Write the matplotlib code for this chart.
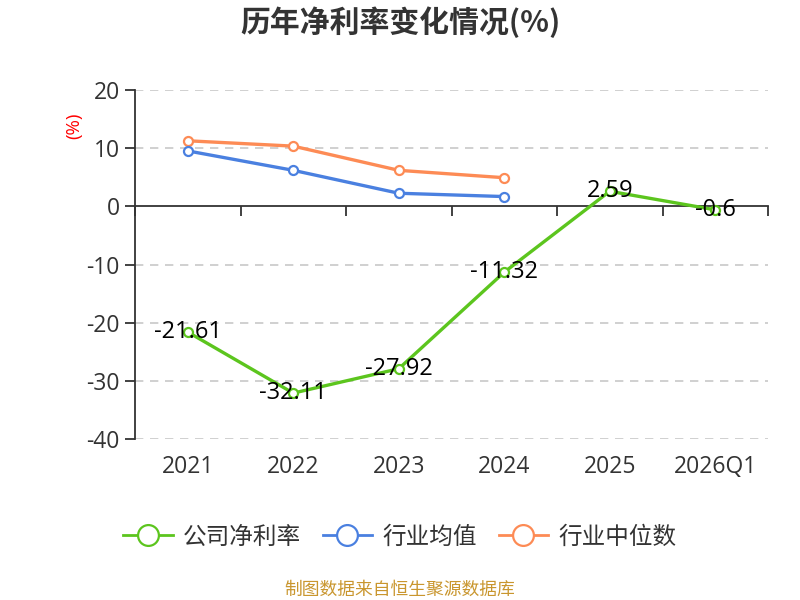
import matplotlib
matplotlib.use("Agg")
import matplotlib.pyplot as plt
import matplotlib.transforms as mtransforms
from matplotlib.lines import Line2D

plt.rcParams['font.family'] = ['Open Sans', 'Noto Sans CJK SC', 'DejaVu Sans']

categories = ['2021', '2022', '2023', '2024', '2025', '2026Q1']
company = [-21.61, -32.11, -27.92, -11.32, 2.59, -0.6]
industry_mean = [9.53, 6.19, 2.25, 1.68]
industry_median = [11.27, 10.35, 6.19, 4.92]
yticks = [20, 10, 0, -10, -20, -30, -40]

c_green = '#5cc51e'
c_blue = '#4a80e0'
c_orange = '#fd8b55'
text_c = '#333333'

fig = plt.figure(figsize=(8, 6), dpi=100)
ax = fig.add_axes([135/800, 1-439/600, (768-135)/800, (439-90)/600])

x = list(range(len(categories)))
mk = dict(marker='o', markersize=6.5, markerfacecolor='white', markeredgewidth=1.6)
ax.plot(x[:len(industry_median)], industry_median, color=c_orange, lw=2.4, zorder=3, markeredgecolor=c_orange, **mk)
ax.plot(x[:len(industry_mean)], industry_mean, color=c_blue, lw=2.4, zorder=3, markeredgecolor=c_blue, **mk)
ax.plot(x, company, color=c_green, lw=2.4, zorder=4, markeredgecolor=c_green, **mk)

for xi, v in zip(x, company):
    ax.text(xi, v, f'{v:g}', ha='center', va='center', fontsize=17, color='black', zorder=5)

ax.set_xlim(-0.5, len(categories) - 0.5)
ax.set_ylim(-40, 20)
ax.set_yticks(yticks)
ax.set_yticklabels([str(t) for t in yticks], fontsize=16.5, color=text_c)
for t in yticks:
    if t != 0:
        ax.axhline(t, color='#c8c8c8', lw=1.2, ls=(0, (5, 4)), zorder=1)

for s in ['top', 'right']:
    ax.spines[s].set_visible(False)
ax.spines['left'].set_color(text_c)
ax.spines['left'].set_linewidth(1.3)
ax.spines['bottom'].set_position(('data', 0))
ax.spines['bottom'].set_color(text_c)
ax.spines['bottom'].set_linewidth(1.3)
ax.tick_params(axis='y', length=7, width=1.3, color=text_c, pad=4)
ax.set_xticks([i - 0.5 for i in range(len(categories) + 1)])
ax.set_xticklabels([])
ax.tick_params(axis='x', length=7, width=1.3, color=text_c, direction='out')

trans = mtransforms.blended_transform_factory(ax.transData, ax.transAxes)
for xi, c in zip(x, categories):
    ax.text(xi, -0.08, c, transform=trans, ha='center', va='center', fontsize=16.5, color=text_c)

fig.text(74/800, 1-126/600, '(%)', rotation=90, color='red', fontsize=13.5, ha='center', va='center')
fig.text(0.5, 1-22/600, '历年净利率变化情况(%)', ha='center', va='center', fontsize=21.5,
         fontweight='bold', color=text_c, family=['Noto Sans CJK SC', 'DejaVu Sans'])

handles = [Line2D([0], [0], color=c, lw=2, marker='o', markersize=15, markerfacecolor='white',
                  markeredgewidth=1.6, markeredgecolor=c) for c in (c_green, c_blue, c_orange)]
fig.legend(handles, ['公司净利率', '行业均值', '行业中位数'], loc='center', bbox_to_anchor=(0.5, 1-537/600),
           ncol=3, frameon=False, handlelength=2.1, columnspacing=0.9, handletextpad=0.45,
           labelcolor=text_c, prop={'family': 'Noto Sans CJK SC', 'size': 17})
fig.text(0.5, 1-590/600, '制图数据来自恒生聚源数据库', ha='center', va='center', fontsize=12.8,
         color='#c9962e', family='Noto Sans CJK SC')

fig.savefig('out.png', dpi=100)
